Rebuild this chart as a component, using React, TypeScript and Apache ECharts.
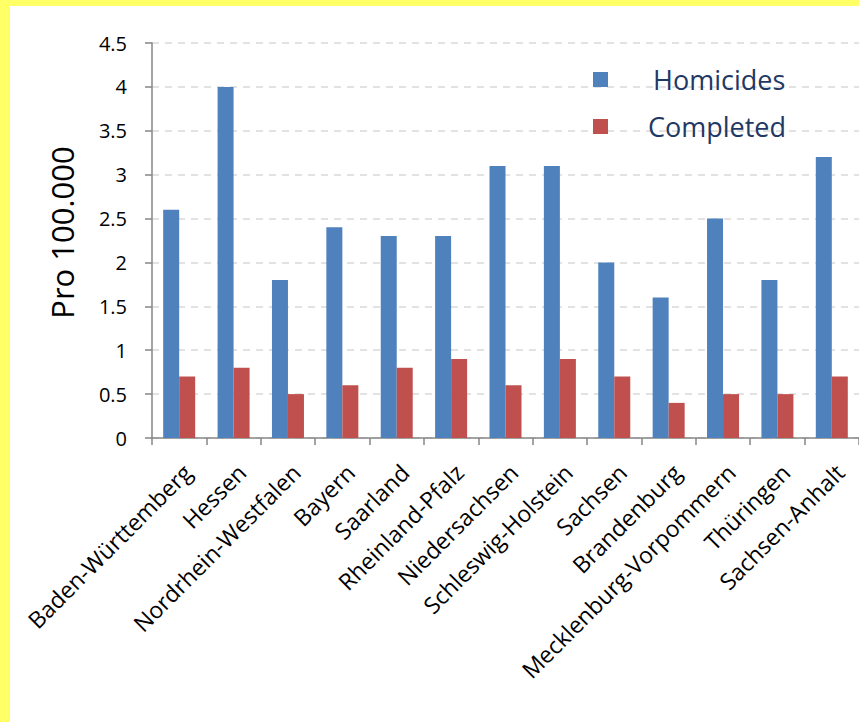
import React, { useEffect, useRef } from "react";
import * as echarts from "echarts";

const states = [
  "Baden-Württemberg",
  "Hessen",
  "Nordrhein-Westfalen",
  "Bayern",
  "Saarland",
  "Rheinland-Pfalz",
  "Niedersachsen",
  "Schleswig-Holstein",
  "Sachsen",
  "Brandenburg",
  "Mecklenburg-Vorpommern",
  "Thüringen",
  "Sachsen-Anhalt",
];
const homicides = [2.6, 4.0, 1.8, 2.4, 2.3, 2.3, 3.1, 3.1, 2.0, 1.6, 2.5, 1.8, 3.2];
const completed = [0.7, 0.8, 0.5, 0.6, 0.8, 0.9, 0.6, 0.9, 0.7, 0.4, 0.5, 0.5, 0.7];

const FONT = "'Open Sans', 'Noto Sans', sans-serif";
const AXIS_GREY = "#868686";
const LEGEND_TEXT = "#1F3864";

export default function App() {
  const ref = useRef<HTMLDivElement>(null);

  useEffect(() => {
    if (!ref.current) return;
    const chart = echarts.init(ref.current, undefined, { renderer: "svg" });
    const legendBase = {
      orient: "vertical",
      left: 588,
      itemWidth: 15,
      itemHeight: 15,
      icon: "rect",
    };
    chart.setOption({
      animation: false,
      backgroundColor: "#ffffff",
      textStyle: { fontFamily: FONT },
      graphic: [
        { type: "rect", left: 0, top: 0, shape: { width: 859, height: 6 }, style: { fill: "#FFFF66" }, z: 100 },
        { type: "rect", left: 0, top: 0, shape: { width: 10, height: 722 }, style: { fill: "#FFFF66" }, z: 100 },
      ],
      grid: { left: 152, top: 43, width: 715, height: 395 },
      legend: [
        {
          ...legendBase,
          top: 61,
          data: ["Homicides"],
          textStyle: { fontFamily: FONT, fontSize: 27, color: LEGEND_TEXT, padding: [0, 0, 0, 40] },
        },
        {
          ...legendBase,
          top: 108,
          data: ["Completed"],
          textStyle: { fontFamily: FONT, fontSize: 27, color: LEGEND_TEXT, padding: [0, 0, 0, 35] },
        },
      ],
      xAxis: {
        type: "category",
        data: states,
        boundaryGap: true,
        axisLine: { lineStyle: { color: AXIS_GREY, width: 1.5 } },
        axisTick: { show: true, length: 7, lineStyle: { color: AXIS_GREY, width: 1.5 } },
        axisLabel: {
          rotate: 45,
          interval: 0,
          margin: 22,
          fontSize: 23,
          verticalAlign: "top",
          color: "#000000",
          fontFamily: FONT,
        },
      },
      yAxis: {
        type: "value",
        min: 0,
        max: 4.5,
        interval: 0.5,
        name: "Pro 100.000",
        nameLocation: "middle",
        nameGap: 75,
        nameTextStyle: { fontSize: 31, color: "#000000", fontFamily: FONT, padding: [0, 0, 0, 16] },
        axisLine: { show: true, lineStyle: { color: AXIS_GREY, width: 1.5 } },
        axisTick: { show: true, length: 7, lineStyle: { color: AXIS_GREY, width: 1.5 } },
        axisLabel: { margin: 25, fontSize: 20, color: "#000000", fontFamily: FONT },
        splitLine: { show: true, lineStyle: { color: "#D9D9D9", type: [7, 6], width: 1.5 } },
      },
      series: [
        {
          name: "Homicides",
          type: "bar",
          data: homicides,
          barWidth: 16,
          barGap: "0%",
          itemStyle: { color: "#4F81BD" },
        },
        {
          name: "Completed",
          type: "bar",
          data: completed,
          barWidth: 16,
          barGap: "0%",
          itemStyle: { color: "#C0504D" },
        },
      ],
    });
    return () => chart.dispose();
  }, []);

  return (
    <div
      ref={ref}
      style={{ position: "absolute", left: 0, top: 0, width: 859, height: 722 }}
    />
  );
}
